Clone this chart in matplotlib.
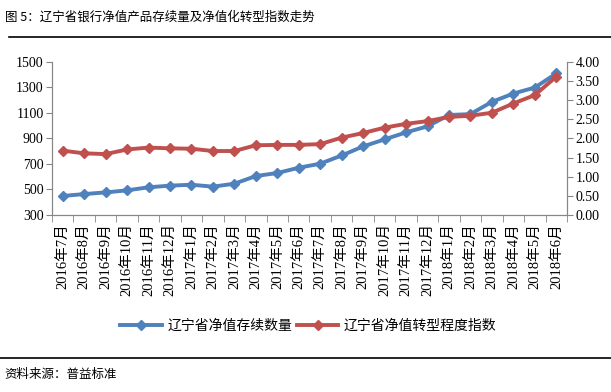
import matplotlib.pyplot as plt
from matplotlib.lines import Line2D

months = ["2016年7月", "2016年8月", "2016年9月", "2016年10月", "2016年11月", "2016年12月",
          "2017年1月", "2017年2月", "2017年3月", "2017年4月", "2017年5月", "2017年6月",
          "2017年7月", "2017年8月", "2017年9月", "2017年10月", "2017年11月", "2017年12月",
          "2018年1月", "2018年2月", "2018年3月", "2018年4月", "2018年5月", "2018年6月"]
# 辽宁省净值存续数量（左轴）
cunxu = [449, 464, 477, 493, 517, 530, 537, 522, 545, 605, 629, 670,
         702, 766, 837, 892, 947, 994, 1083, 1090, 1186, 1251, 1298, 1408]
# 辽宁省净值转型程度指数（右轴）
zhishu = [1.68, 1.61, 1.59, 1.71, 1.76, 1.74, 1.73, 1.67, 1.67, 1.82, 1.83, 1.83,
          1.85, 2.02, 2.14, 2.28, 2.38, 2.45, 2.56, 2.59, 2.67, 2.91, 3.13, 3.61]
left_ticks = [300, 500, 700, 900, 1100, 1300, 1500]
right_ticks = [0, 0.5, 1.0, 1.5, 2.0, 2.5, 3.0, 3.5, 4.0]

blue = "#4F81BD"
red = "#C0504D"
grey = "#868686"
serif = ["Liberation Serif", "Noto Sans CJK SC"]
cjk = ["Noto Sans CJK SC", "DejaVu Sans"]

fig = plt.figure(figsize=(6.11, 3.92), dpi=100)
ax = fig.add_axes([0.085, 0.4515, 0.843, 0.391])
ax2 = ax.twinx()

x = list(range(len(months)))
ax.plot(x, cunxu, color=blue, lw=2.8, marker="D", ms=5, zorder=3)
ax2.plot(x, zhishu, color=red, lw=2.8, marker="D", ms=5, zorder=3)

ax.set_xlim(-0.5, len(months) - 0.5)
ax.set_ylim(300, 1500)
ax2.set_ylim(0, 4)
ax.set_yticks(left_ticks)
ax2.set_yticks(right_ticks)
ax2.set_yticklabels([f"{v:.2f}" for v in right_ticks])

ax.set_xticks(x)
ax.set_xticklabels(months, rotation=90, family=serif, fontsize=10.5)
ax.set_xticks([i - 0.5 for i in range(len(months) + 1)], minor=True)
ax.tick_params(axis="x", which="major", length=0, pad=6)
ax.tick_params(axis="x", which="minor", length=5, color=grey)

for a in (ax, ax2):
    a.spines["top"].set_visible(False)
    for s in ("left", "right", "bottom"):
        a.spines[s].set_color(grey)
    a.tick_params(axis="y", length=4, color=grey, labelsize=10, pad=2)
    for lab in a.get_yticklabels():
        lab.set_family(serif)

# 图例
handles = [Line2D([], [], color=blue, lw=2.8, marker="D", ms=5),
           Line2D([], [], color=red, lw=2.8, marker="D", ms=5)]
fig.legend(handles, ["辽宁省净值存续数量", "辽宁省净值转型程度指数"],
           loc="center", bbox_to_anchor=(0.505, 0.168), ncol=2, frameon=False,
           prop={"family": cjk, "size": 10}, handlelength=3, columnspacing=0.3,
           handletextpad=0.4)

fig.text(0.008, 0.955, "图 5：辽宁省银行净值产品存续量及净值化转型指数走势",
         family=cjk, fontsize=9, va="center")
fig.add_artist(Line2D([0.015, 1.0], [0.905, 0.905], color="black", lw=1.2))
fig.add_artist(Line2D([0.0, 1.0], [0.087, 0.087], color="black", lw=1.2))
fig.text(0.008, 0.045, "资料来源：普益标准", family=cjk, fontsize=9, va="center")

fig.savefig("out.png", dpi=100)
